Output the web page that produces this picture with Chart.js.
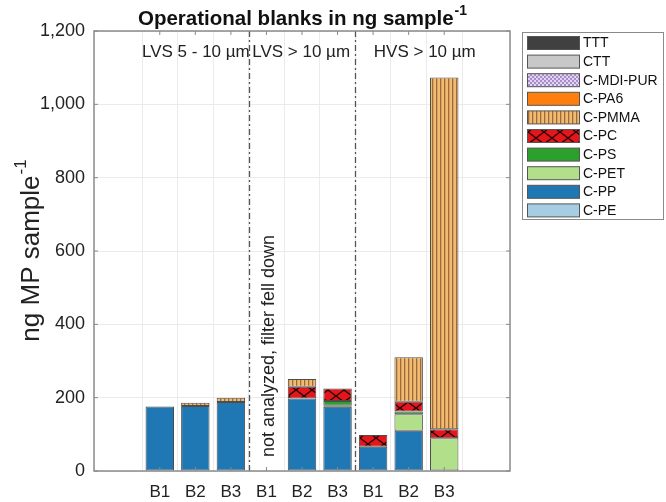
<!DOCTYPE html>
<html lang="en">
<head>
    <meta charset="UTF-8">
    <title>Operational blanks</title>
    <style>
        body { margin: 0; background: #fff; }
        canvas { display: block; }
    </style>
</head>
<body>
    <canvas id="blankChart" width="666" height="502"></canvas>

    <script src="https://cdn.jsdelivr.net/npm/chart.js"></script>
    <script>
        // samples: 3 blanks per sampler group
        const xLabels = ["B1", "B2", "B3", "B1", "B2", "B3", "B1", "B2", "B3"];
        const groupNames = ["LVS 5 - 10 µm", "LVS > 10 µm", "HVS > 10 µm"];
        const yTicks = [0, 200, 400, 600, 800, 1000, 1200];

        // ng per sample, stacked from the bottom
        const cPE     = [0, 0, 0, 0, 0, 0, 0, 0, 0];
        const cPP     = [176, 177, 188, 0, 198, 175, 66, 110, 0];
        const cPET    = [0, 0, 0, 0, 0, 3, 0, 45, 89];
        const cPS     = [0, 0, 0, 0, 0, 13, 0, 7, 0];
        const cPC     = [0, 0, 0, 0, 32, 34, 32, 27, 25];
        const cPMMA   = [0, 9, 12, 0, 21, 0, 0, 121, 959];
        const cPA6    = [0, 0, 0, 0, 0, 0, 0, 0, 0];
        const cMDIPUR = [0, 0, 0, 0, 0, 0, 0, 0, 0];
        const cCTT    = [0, 0, 0, 0, 0, 0, 0, 0, 0];
        const cTTT    = [0, 0, 0, 0, 0, 0, 0, 0, 0];

        function makePattern(w, h, paint) {
            const c = document.createElement('canvas');
            c.width = w; c.height = h;
            const g = c.getContext('2d');
            paint(g, w, h);
            return g.createPattern(c, 'repeat');
        }

        const pmmaFill = makePattern(4, 4, (g, w, h) => {
            g.fillStyle = '#f3bb72';
            g.fillRect(0, 0, w, h);
            g.fillStyle = '#9c6b3c';
            g.fillRect(0, 0, 1.3, h);
        });
        const pcFill = makePattern(16, 12, (g, w, h) => {
            g.fillStyle = '#e4161c';
            g.fillRect(0, 0, w, h);
            g.strokeStyle = '#1a0000';
            g.lineWidth = 1.3;
            g.beginPath();
            g.moveTo(0, 0); g.lineTo(w, h);
            g.moveTo(w, 0); g.lineTo(0, h);
            g.stroke();
        });
        const purFill = makePattern(4, 4, (g, w, h) => {
            g.fillStyle = '#e2d6ef';
            g.fillRect(0, 0, w, h);
            g.fillStyle = '#a98ccc';
            g.fillRect(0, 0, 2, 2);
            g.fillRect(2, 2, 2, 2);
        });

        const series = [
            { label: "C-PE", data: cPE, color: '#a6cee3' },
            { label: "C-PP", data: cPP, color: '#1f77b4' },
            { label: "C-PET", data: cPET, color: '#b2df8a' },
            { label: "C-PS", data: cPS, color: '#2ca02c' },
            { label: "C-PC", data: cPC, color: pcFill },
            { label: "C-PMMA", data: cPMMA, color: pmmaFill },
            { label: "C-PA6", data: cPA6, color: '#ff7f0e' },
            { label: "C-MDI-PUR", data: cMDIPUR, color: purFill },
            { label: "CTT", data: cCTT, color: '#c8c8c8' },
            { label: "TTT", data: cTTT, color: '#404040' }
        ];

        const FONT = "'Liberation Sans', Arial, sans-serif";

        // draws the text bits, box, dividers and legend around the plot
        const decorations = {
            id: 'decorations',
            afterDatasetsDraw(chart) {
                const ctx = chart.ctx;
                const x = chart.scales.x;
                const a = chart.chartArea;
                ctx.save();
                ctx.strokeStyle = '#555';
                ctx.lineWidth = 1.3;
                ctx.setLineDash([6, 3, 2, 3]);
                [2.5, 5.5].forEach(v => {
                    const px = Math.round(x.getPixelForValue(v)) + 0.5;
                    ctx.beginPath();
                    ctx.moveTo(px, a.bottom);
                    ctx.lineTo(px, a.top);
                    ctx.stroke();
                });
                ctx.restore();
            },
            afterDraw(chart) {
                const ctx = chart.ctx;
                const x = chart.scales.x;
                const y = chart.scales.y;
                const a = chart.chartArea;
                ctx.save();

                // axes box with inward ticks
                ctx.strokeStyle = '#8a8a8a';
                ctx.lineWidth = 1.5;
                ctx.strokeRect(a.left, a.top, a.right - a.left, a.bottom - a.top);
                ctx.lineWidth = 1;
                ctx.beginPath();
                xLabels.forEach((l, i) => {
                    const px = x.getPixelForValue(i);
                    ctx.moveTo(px, a.bottom); ctx.lineTo(px, a.bottom - 4);
                    ctx.moveTo(px, a.top); ctx.lineTo(px, a.top + 4);
                });
                yTicks.forEach(v => {
                    const py = y.getPixelForValue(v);
                    ctx.moveTo(a.left, py); ctx.lineTo(a.left + 4, py);
                    ctx.moveTo(a.right, py); ctx.lineTo(a.right - 4, py);
                });
                ctx.stroke();

                // title
                ctx.fillStyle = '#111';
                ctx.textBaseline = 'alphabetic';
                const tMain = 'Operational blanks in ng sample';
                ctx.font = 'bold 20.5px ' + FONT;
                const w1 = ctx.measureText(tMain).width;
                ctx.font = 'bold 14px ' + FONT;
                const w2 = ctx.measureText('-1').width;
                let tx = (a.left + a.right) / 2 - (w1 + w2) / 2;
                ctx.font = 'bold 20.5px ' + FONT;
                ctx.textAlign = 'left';
                ctx.fillText(tMain, tx, 25);
                ctx.font = 'bold 14px ' + FONT;
                ctx.fillText('-1', tx + w1 + 1, 15);

                // group names
                ctx.font = '17px ' + FONT;
                ctx.fillStyle = '#222';
                ctx.textBaseline = 'middle';
                const groupAt = [-0.5, 2.6, 6.02];
                groupNames.forEach((g, i) => {
                    ctx.fillText(g, x.getPixelForValue(groupAt[i]), 52);
                });

                // missing sample note
                ctx.save();
                ctx.translate(x.getPixelForValue(3.08), 457);
                ctx.rotate(-Math.PI / 2);
                ctx.font = '18px ' + FONT;
                ctx.textAlign = 'left';
                ctx.fillText('not analyzed, filter fell down', 0, 0);
                ctx.restore();

                // y axis title
                ctx.save();
                ctx.translate(30, (a.top + a.bottom) / 2);
                ctx.rotate(-Math.PI / 2);
                ctx.fillStyle = '#222';
                ctx.font = '26px ' + FONT;
                const yMain = 'ng MP sample';
                const yw1 = ctx.measureText(yMain).width;
                ctx.font = '17px ' + FONT;
                const yw2 = ctx.measureText('-1').width;
                ctx.textBaseline = 'alphabetic';
                ctx.font = '26px ' + FONT;
                ctx.fillText(yMain, -(yw1 + yw2) / 2, 9);
                ctx.font = '17px ' + FONT;
                ctx.fillText('-1', -(yw1 + yw2) / 2 + yw1 + 1, -4);
                ctx.restore();

                // legend, top entry = top of stack
                const lx = 522, ly = 32, lw = 141, lh = 187;
                ctx.fillStyle = '#fff';
                ctx.fillRect(lx, ly, lw, lh);
                ctx.strokeStyle = '#8a8a8a';
                ctx.lineWidth = 1;
                ctx.strokeRect(lx + 0.5, ly + 0.5, lw, lh);
                ctx.font = '14px ' + FONT;
                ctx.textBaseline = 'middle';
                const items = chart.data.datasets.slice().reverse();
                items.forEach((ds, i) => {
                    const cy = 43 + i * 18.6;
                    ctx.fillStyle = ds.backgroundColor;
                    ctx.fillRect(527, cy - 6.5, 52, 13);
                    ctx.strokeStyle = '#555';
                    ctx.strokeRect(527.5, cy - 6.5, 52, 13);
                    ctx.fillStyle = '#111';
                    ctx.fillText(ds.label, 583, cy + 0.5);
                });

                ctx.restore();
            }
        };

        const ctx = document.getElementById('blankChart').getContext('2d');
        new Chart(ctx, {
            type: 'bar',
            data: {
                datasets: series.map(s => ({
                    label: s.label,
                    data: s.data.map((v, i) => ({ x: i, y: v })).filter(p => p.y > 0),
                    backgroundColor: s.color,
                    borderColor: '#4d4d4d',
                    borderWidth: 1,
                    borderSkipped: false,
                    barPercentage: 0.8,
                    categoryPercentage: 1.0
                }))
            },
            options: {
                responsive: false,
                animation: false,
                layout: { padding: { top: 31, right: 156, left: 0, bottom: 0 } },
                plugins: {
                    legend: { display: false },
                    tooltip: { enabled: false },
                    title: { display: false }
                },
                scales: {
                    x: {
                        type: 'linear',
                        stacked: true,
                        min: -1.2,
                        max: 9.2,
                        afterBuildTicks: axis => {
                            axis.ticks = xLabels.map((l, i) => ({ value: i }));
                        },
                        afterFit: axis => { axis.height = 31; },
                        grid: { color: '#ebebeb', drawTicks: false },
                        border: { display: false },
                        ticks: {
                            autoSkip: false,
                            maxRotation: 0,
                            padding: 11,
                            color: '#222',
                            font: { family: FONT, size: 17 },
                            callback: v => xLabels[v] ?? ''
                        }
                    },
                    y: {
                        stacked: true,
                        min: 0,
                        max: 1200,
                        afterBuildTicks: axis => {
                            axis.ticks = yTicks.map(v => ({ value: v }));
                        },
                        afterFit: axis => { axis.width = 94; },
                        grid: { color: '#ebebeb', drawTicks: false },
                        border: { display: false },
                        ticks: {
                            padding: 9,
                            color: '#222',
                            font: { family: FONT, size: 18 },
                            callback: v => v.toLocaleString('en-US')
                        }
                    }
                }
            },
            plugins: [decorations]
        });
    </script>
</body>
</html>
